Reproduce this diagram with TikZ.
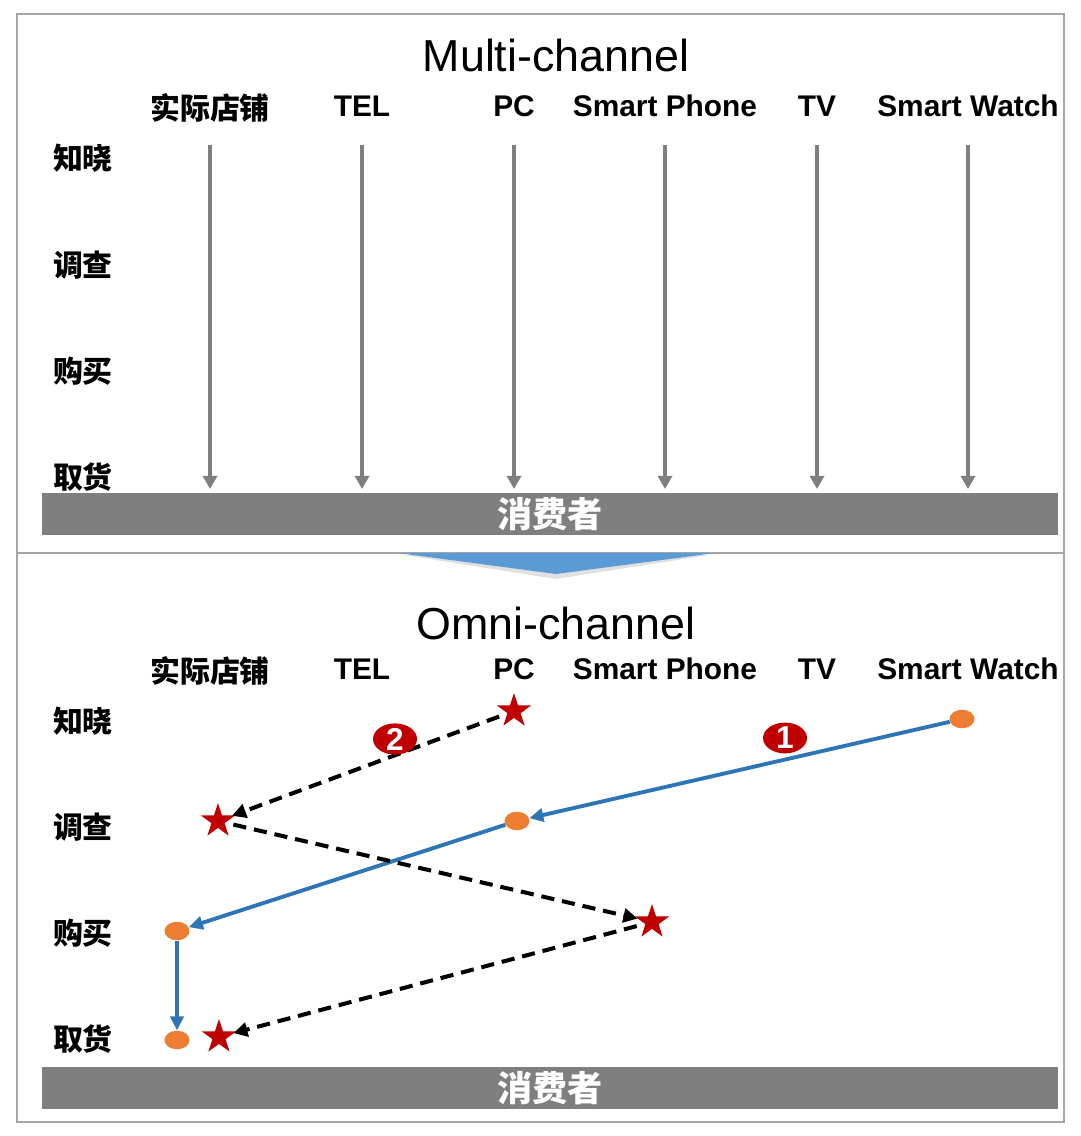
\documentclass[tikz,border=0pt]{standalone}
\usepackage{fontspec}
\setmainfont{Liberation Sans}
\newfontfamily\cjk{Noto Sans CJK SC}
\usepackage{tikz}
\usetikzlibrary{arrows.meta,shapes.geometric,positioning}
\definecolor{bargray}{HTML}{7F7F7F}
\definecolor{framegray}{HTML}{A6A6A6}
\definecolor{linkblue}{HTML}{2E75B6}
\definecolor{dotorange}{HTML}{ED7D31}
\definecolor{starred}{HTML}{C00000}
\definecolor{arrowblue}{HTML}{5B9BD5}
\tikzstyle{title}=[font=\fontsize{25.5}{30}\selectfont]
\tikzstyle{channel}=[font=\fontsize{17}{20}\selectfont\bfseries]
\tikzstyle{cnlabel}=[font=\fontsize{17}{20}\selectfont\cjk\bfseries]
\tikzstyle{bar}=[fill=bargray, text=white, font=\fontsize{20}{24}\selectfont\cjk\bfseries, minimum width=20.32cm, minimum height=0.84cm, inner sep=0pt]
\tikzstyle{flow}=[draw=bargray, line width=2pt, -{Triangle[length=7.5pt,width=8pt]}]
\tikzstyle{dot}=[ellipse, fill=dotorange, minimum width=0.5cm, minimum height=0.37cm, inner sep=0pt]
\tikzstyle{redstar}=[star, star points=5, star point ratio=2.6, fill=starred, minimum size=0.72cm, inner sep=0pt]
\tikzstyle{route}=[draw=linkblue, line width=2.2pt, -{Triangle[length=8pt,width=7.5pt]}]
\tikzstyle{jump}=[draw=black, line width=2.3pt, dash pattern=on 7.5pt off 4.5pt, shorten >=8.5pt, shorten <=9pt, -{Triangle[length=8pt,width=8pt]}]
\tikzstyle{badge}=[ellipse, fill=starred, text=white, font=\fontsize{18}{20}\selectfont\bfseries, minimum width=0.88cm, minimum height=0.58cm, inner sep=0pt]

\begin{document}
\begin{tikzpicture}[x=0.02cm, y=-0.02cm]
	\useasboundingbox (0,0) rectangle (1080,1136);
	\fill[white] (0,0) rectangle (1080,1136);

	% frame and divider
	\draw[framegray, line width=1.2pt] (17,14) rectangle (1064,1122);
	\draw[framegray, line width=1.2pt] (17,553) -- (1064,553);
	\fill[black, opacity=0.12] (404,555) -- (709,555) -- (556,579) -- cycle;
	\fill[arrowblue] (398,553) -- (715,553) -- (556,574) -- cycle;

	% Multi-channel
	\node[title] at (556, 55) (multi) {Multi-channel};
	\node[cnlabel] at (210, 108) (store1) {实际店铺};
	\node[channel] at (362, 106) (tel1) {TEL};
	\node[channel] at (514, 106) (pc1) {PC};
	\node[channel] at (665, 106) (phone1) {Smart Phone};
	\node[channel] at (817, 106) (tv1) {TV};
	\node[channel] at (968, 106) (watch1) {Smart Watch};
	\node[cnlabel] at (83, 158) (know1) {知晓};
	\node[cnlabel] at (83, 265) (study1) {调查};
	\node[cnlabel] at (83, 371) (buy1) {购买};
	\node[cnlabel] at (83, 477) (pick1) {取货};

	\coordinate (s1) at (210, 145); \coordinate (e1) at (210, 489);
	\coordinate (s2) at (362, 145); \coordinate (e2) at (362, 489);
	\coordinate (s3) at (514, 145); \coordinate (e3) at (514, 489);
	\coordinate (s4) at (665, 145); \coordinate (e4) at (665, 489);
	\coordinate (s5) at (817, 145); \coordinate (e5) at (817, 489);
	\coordinate (s6) at (968, 145); \coordinate (e6) at (968, 489);
	\draw[flow] (s1) -- (e1);
	\draw[flow] (s2) -- (e2);
	\draw[flow] (s3) -- (e3);
	\draw[flow] (s4) -- (e4);
	\draw[flow] (s5) -- (e5);
	\draw[flow] (s6) -- (e6);

	\node[bar] at (550, 514) (user1) {消费者};

	% Omni-channel
	\node[title] at (556, 623) (omni) {Omni-channel};
	\node[cnlabel] at (210, 671) (store2) {实际店铺};
	\node[channel] at (362, 669) (tel2) {TEL};
	\node[channel] at (514, 669) (pc2) {PC};
	\node[channel] at (665, 669) (phone2) {Smart Phone};
	\node[channel] at (817, 669) (tv2) {TV};
	\node[channel] at (968, 669) (watch2) {Smart Watch};
	\node[cnlabel] at (83, 721) (know2) {知晓};
	\node[cnlabel] at (83, 827) (study2) {调查};
	\node[cnlabel] at (83, 933) (buy2) {购买};
	\node[cnlabel] at (83, 1039) (pick2) {取货};

	\node[bar] at (550, 1088) (user2) {消费者};

	\node[dot] at (962, 719) (watchdot) {};
	\node[dot] at (517, 821) (pcdot) {};
	\node[dot] at (177, 931) (buydot) {};
	\node[dot] at (177, 1040) (pickdot) {};

	\node[redstar] at (514, 711) (pcstar) {};
	\node[redstar] at (218, 821) (storestar) {};
	\node[redstar] at (652, 922) (phonestar) {};
	\node[redstar] at (219, 1037) (pickstar) {};

	\draw[route] (watchdot) -- (pcdot);
	\draw[route] (pcdot) -- (buydot);
	\draw[route] (buydot) -- (pickdot);

	\draw[jump] (pcstar.center) -- (storestar.center);
	\draw[jump] (storestar.center) -- (phonestar.center);
	\draw[jump] (phonestar.center) -- (pickstar.center);

	\node[badge] at (785, 738) (first) {1};
	\node[badge] at (395, 739) (second) {2};
\end{tikzpicture}
\end{document}
